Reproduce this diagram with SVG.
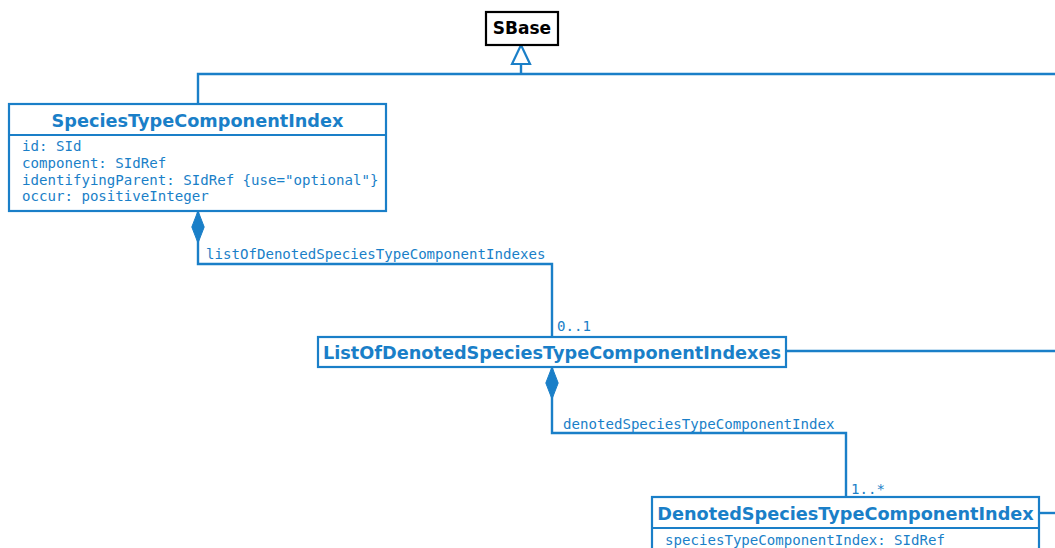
<svg xmlns="http://www.w3.org/2000/svg" width="1055" height="548" viewBox="0 0 1055 548">
<style>
.box{fill:#fff;stroke:#1a7fc8;stroke-width:2.2}
.sbase{fill:#fff;stroke:#000;stroke-width:2.2}
.title{font-family:"DejaVu Sans",sans-serif;font-weight:bold;font-size:17.7px;fill:#1a7fc8;text-anchor:middle}
.stitle{font-family:"DejaVu Sans",sans-serif;font-weight:bold;font-size:17px;fill:#000;text-anchor:middle}
.attr{font-family:"DejaVu Sans Mono",monospace;font-size:14.1px;fill:#1a7fc8}
.conn{fill:none;stroke:#1a7fc8;stroke-width:2.4}
</style>
<defs>
<marker id="diamond" markerUnits="userSpaceOnUse" markerWidth="34" markerHeight="14" refX="0" refY="7" orient="auto" viewBox="0 0 34 14" overflow="visible">
<path d="M0,7 L16,0.8 L32,7 L16,13.2 Z" fill="#1a7fc8" stroke="#1a7fc8" stroke-width="1"/>
</marker>
<marker id="tri" markerUnits="userSpaceOnUse" markerWidth="22" markerHeight="20" refX="0" refY="10" orient="auto" viewBox="0 0 22 20" overflow="visible">
<path d="M0,1 L19,10 L0,19 Z" fill="#fff" stroke="#1a7fc8" stroke-width="2.2"/>
</marker>
</defs>
<g id="connectors">
<path class="conn" d="M198,104 L198,74 L1055,74"/>
<path class="conn" d="M521,74 L521,64" marker-end="url(#tri)"/>
<path class="conn" d="M198,211 L198,264 L552,264 L552,337" marker-start="url(#diamond)"/>
<path class="conn" d="M552,367 L552,433 L846,433 L846,497" marker-start="url(#diamond)"/>
<path class="conn" d="M786,351 L1055,351"/>
<path class="conn" d="M1039,513 L1055,513"/>
<text class="attr" x="206" y="259">listOfDenotedSpeciesTypeComponentIndexes</text>
<text class="attr" x="557" y="331">0..1</text>
<text class="attr" x="563" y="429">denotedSpeciesTypeComponentIndex</text>
<text class="attr" x="851" y="494">1..*</text>
</g>
<g id="SBase">
<rect class="sbase" x="486" y="12" width="72" height="33"/>
<text class="stitle" x="522" y="34">SBase</text>
</g>
<g id="SpeciesTypeComponentIndex">
<rect class="box" x="9" y="104" width="377" height="107"/>
<line class="box" x1="9" y1="135" x2="386" y2="135"/>
<text class="title" x="197.5" y="126.5">SpeciesTypeComponentIndex</text>
<text class="attr" x="22" y="151">id: SId</text>
<text class="attr" x="22" y="168">component: SIdRef</text>
<text class="attr" x="22" y="184.5">identifyingParent: SIdRef {use="optional"}</text>
<text class="attr" x="22" y="201">occur: positiveInteger</text>
</g>
<g id="ListOfDenotedSpeciesTypeComponentIndexes">
<rect class="box" x="318" y="337" width="468" height="30"/>
<text class="title" x="552" y="358.5">ListOfDenotedSpeciesTypeComponentIndexes</text>
</g>
<g id="DenotedSpeciesTypeComponentIndex">
<rect class="box" x="652" y="497" width="387" height="70"/>
<line class="box" x1="652" y1="528" x2="1039" y2="528"/>
<text class="title" x="845.5" y="520">DenotedSpeciesTypeComponentIndex</text>
<text class="attr" x="665" y="545">speciesTypeComponentIndex: SIdRef</text>
</g>
</svg>
